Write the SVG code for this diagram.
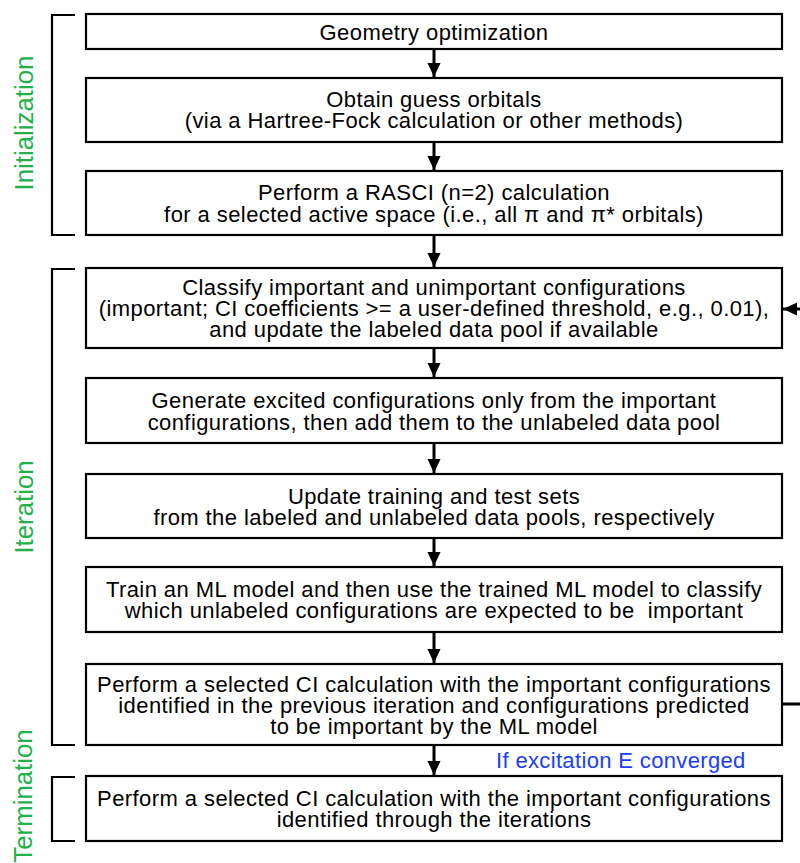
<svg xmlns="http://www.w3.org/2000/svg" width="800" height="863" viewBox="0 0 800 863">
<style>
.box{fill:#fff;stroke:#000;stroke-width:2.2}
.t{font-family:"Liberation Sans",Arial,sans-serif;font-size:22px;letter-spacing:0.42px;fill:#000;text-anchor:middle}
.br{fill:none;stroke:#000;stroke-width:2.2}
.g{font-family:"Liberation Sans",Arial,sans-serif;font-size:25.8px;fill:#22b04a;text-anchor:middle}
.c{fill:none;stroke:#000;stroke-width:3}
.blue{font-family:"Liberation Sans",Arial,sans-serif;font-size:22px;letter-spacing:0.35px;fill:#1a3dff}
</style>
<defs>
<marker id="ah" markerWidth="14" markerHeight="16" refX="15" refY="7" orient="auto" markerUnits="userSpaceOnUse" viewBox="0 0 15 14">
<path d="M0,0 L15,7 L0,14 Z" fill="#000"/>
</marker>
</defs>
<rect width="800" height="863" fill="#fff"/>
<g id="brackets">
<path class="br" d="M75,15 H52 V235 H75"/>
<path class="br" d="M75,269 H52 V745 H75"/>
<path class="br" d="M75,777 H52 V841 H75"/>
<text class="g" transform="translate(33,123) rotate(-90)">Initialization</text>
<text class="g" transform="translate(33,507) rotate(-90)">Iteration</text>
<text class="g" transform="translate(32,796) rotate(-90)">Termination</text>
</g>
<g id="connectors">
<path class="c" d="M434,49 V77" marker-end="url(#ah)"/>
<path class="c" d="M434,142 V170" marker-end="url(#ah)"/>
<path class="c" d="M434,235 V267" marker-end="url(#ah)"/>
<path class="c" d="M434,348 V377" marker-end="url(#ah)"/>
<path class="c" d="M434,443 V473" marker-end="url(#ah)"/>
<path class="c" d="M434,538 V566" marker-end="url(#ah)"/>
<path class="c" d="M434,632 V663" marker-end="url(#ah)"/>
<path class="c" d="M434,745 V775" marker-end="url(#ah)"/>
<path class="c" d="M782,704 H806 V309 H783" marker-end="url(#ah)"/>
<text class="blue" x="496" y="768">If excitation E converged</text>
</g>
<g id="n1"><rect class="box" x="86" y="14" width="696" height="35"/>
<text class="t" x="434" y="40">Geometry optimization</text></g>
<g id="n2"><rect class="box" x="86" y="78" width="696" height="64"/>
<text class="t" x="434" y="107">Obtain guess orbitals</text>
<text class="t" x="434" y="128">(via a Hartree-Fock calculation or other methods)</text></g>
<g id="n3"><rect class="box" x="86" y="171" width="696" height="64"/>
<text class="t" x="434" y="200">Perform a RASCI (n=2) calculation</text>
<text class="t" x="434" y="222">for a selected active space (i.e., all π and π* orbitals)</text></g>
<g id="n4"><rect class="box" x="86" y="268" width="696" height="80"/>
<text class="t" x="434" y="295">Classify important and unimportant configurations</text>
<text class="t" x="434" y="316">(important; CI coefficients &gt;= a user-defined threshold, e.g., 0.01),</text>
<text class="t" x="434" y="337">and update the labeled data pool if available</text></g>
<g id="n5"><rect class="box" x="86" y="378" width="696" height="65"/>
<text class="t" x="434" y="408">Generate excited configurations only from the important</text>
<text class="t" x="434" y="430">configurations, then add them to the unlabeled data pool</text></g>
<g id="n6"><rect class="box" x="86" y="474" width="696" height="64"/>
<text class="t" x="434" y="504">Update training and test sets</text>
<text class="t" x="434" y="525">from the labeled and unlabeled data pools, respectively</text></g>
<g id="n7"><rect class="box" x="86" y="567" width="696" height="65"/>
<text class="t" x="434" y="597">Train an ML model and then use the trained ML model to classify</text>
<text class="t" x="434" y="618" xml:space="preserve">which unlabeled configurations are expected to be  important</text></g>
<g id="n8"><rect class="box" x="86" y="664" width="696" height="81"/>
<text class="t" x="434" y="692">Perform a selected CI calculation with the important configurations</text>
<text class="t" x="434" y="713">identified in the previous iteration and configurations predicted</text>
<text class="t" x="434" y="734">to be important by the ML model</text></g>
<g id="n9"><rect class="box" x="86" y="776" width="696" height="65"/>
<text class="t" x="434" y="806">Perform a selected CI calculation with the important configurations</text>
<text class="t" x="434" y="827">identified through the iterations</text></g>
</svg>
